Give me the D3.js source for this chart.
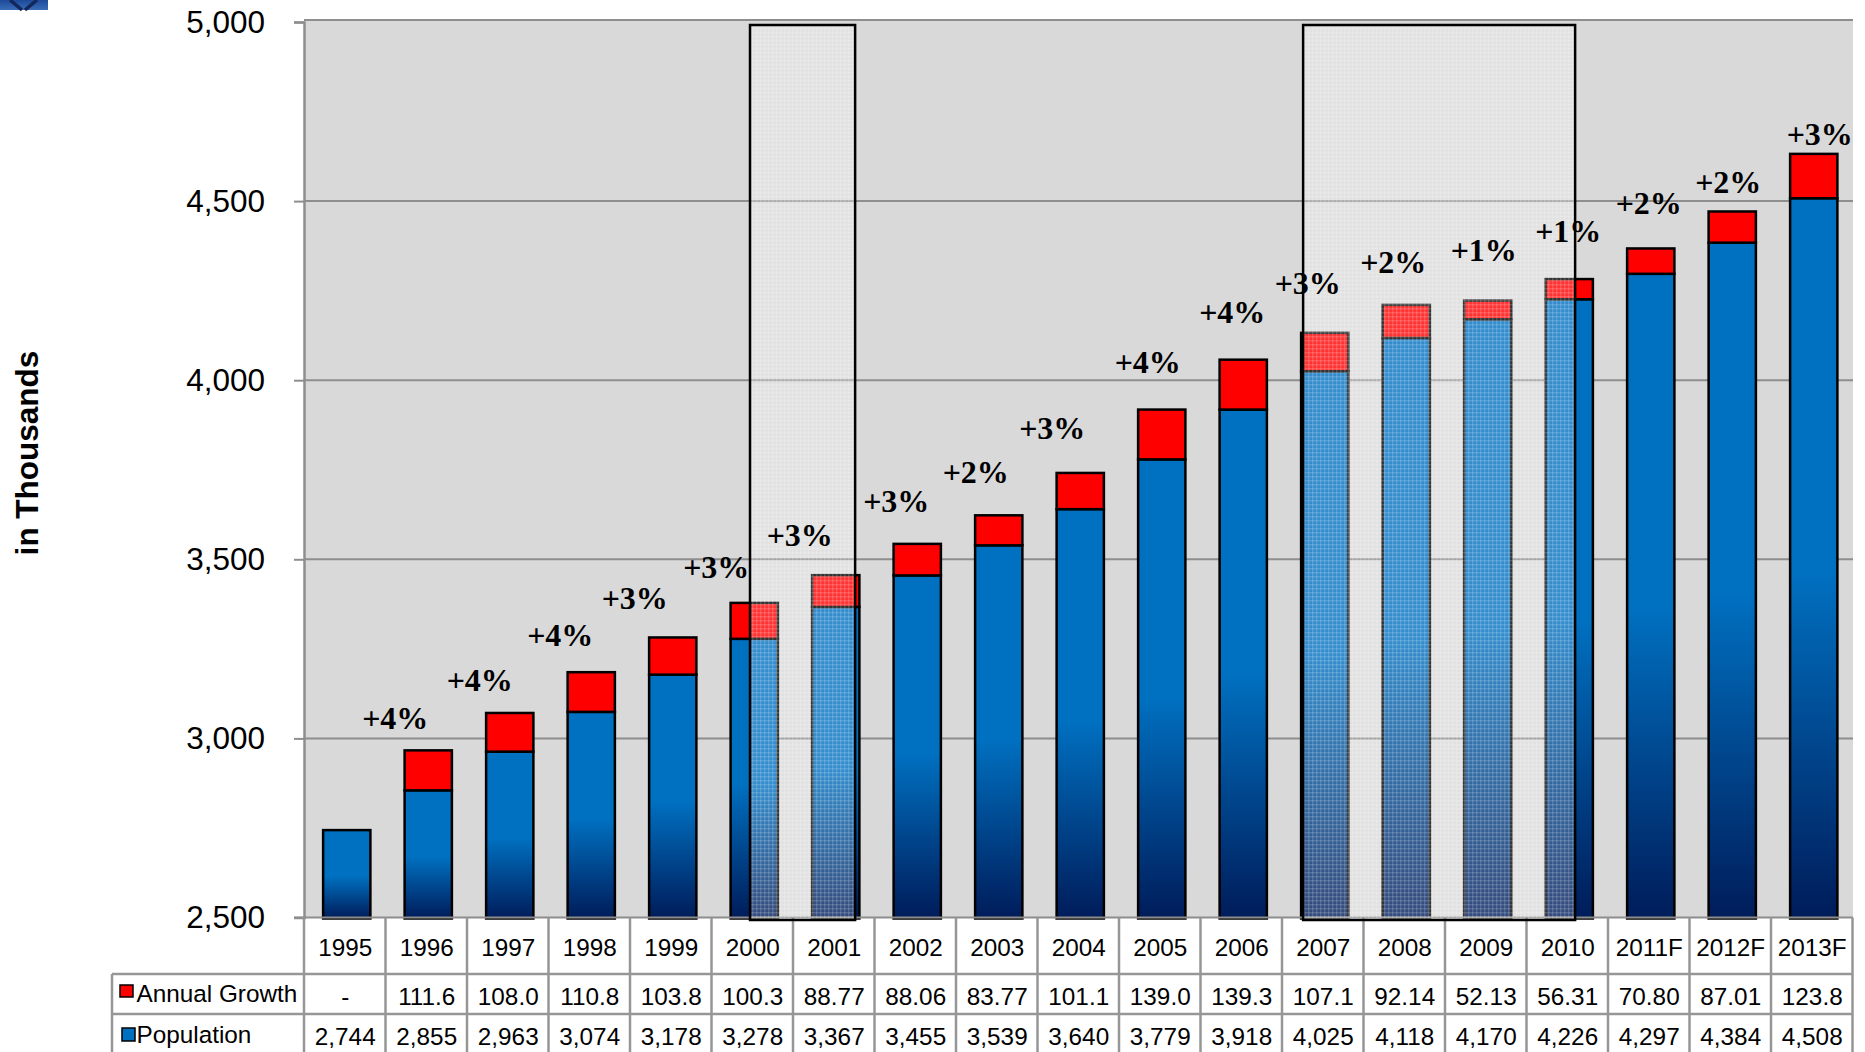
<!DOCTYPE html>
<html>
<head>
<meta charset="utf-8">
<script src="https://cdn.jsdelivr.net/npm/d3@7/dist/d3.min.js"></script>
<style>
html,body{margin:0;padding:0;background:#fff;overflow:hidden}
svg{display:block}
</style>
</head>
<body>
<svg id="chart" width="1865" height="1052"></svg>
<script>
const years = ["1995","1996","1997","1998","1999","2000","2001","2002","2003","2004","2005","2006","2007","2008","2009","2010","2011F","2012F","2013F"];
const population = [2744,2855,2963,3074,3178,3278,3367,3455,3539,3640,3779,3918,4025,4118,4170,4226,4297,4384,4508];
const growthText = ["-","111.6","108.0","110.8","103.8","100.3","88.77","88.06","83.77","101.1","139.0","139.3","107.1","92.14","52.13","56.31","70.80","87.01","123.8"];
const percentLabels = ["","+4%","+4%","+4%","+3%","+3%","+3%","+3%","+2%","+3%","+4%","+4%","+3%","+2%","+1%","+1%","+2%","+2%","+3%"];
const yTicks = [2500,3000,3500,4000,4500,5000];
const highlightSpans = [["2000","2001"],["2007","2010"]];
const seriesNames = ["Annual Growth","Population"];

// layout only: hand placement of the percent labels relative to each bar top
const labelDx = [0,-33,-30,-31,-38,-38,-36,-21,-23,-28,-14,-11,-17,-13,-4,-1,-2,-4,6];
const labelDy = [0,-32,-33,-37,-39,-36,-40,-43,-43,-45,-48,-48,-50,-43,-51,-48,-45,-29,-20];
// layout only: how far each highlight box sits from its first and last bar
const spanPadLeft = [19.4,2];
const spanPadRight = [43,29.5];

const growth = growthText.map(t => t === "-" ? 0 : parseFloat(t));
const rows = years.map((year,i) => ({year, Population: population[i], Growth: growth[i], i}));
const stacked = d3.stack().keys(["Population","Growth"])(rows);

const plot = {left:304, right:1853, top:20, bottom:917.5};
const sans = "'Liberation Sans', Arial, sans-serif";
const serif = "'Liberation Serif', 'Times New Roman', serif";
const gridGrey = "#8e8e8e", tableGrey = "#969696";

const svg = d3.select("#chart");
const y = d3.scaleLinear().domain([2500,5000]).range([917.5,22]);
const x = d3.scaleBand().domain(years).range([306,1854.5]).paddingInner(0.42).paddingOuter(0.21);
const col = d3.scaleBand().domain(years).range([304,1852.5]);

const defs = svg.append("defs");
const grad = defs.append("linearGradient").attr("id","blueGrad").attr("x1",0).attr("y1",0).attr("x2",0).attr("y2",1);
grad.append("stop").attr("offset","0.52").attr("stop-color","#0070c0");
grad.append("stop").attr("offset","1").attr("stop-color","#001c5a");
const logoGrad = defs.append("linearGradient").attr("id","logoGrad").attr("x1",0).attr("y1",0).attr("x2",0).attr("y2",1);
logoGrad.append("stop").attr("offset","0").attr("stop-color","#1d4a9a");
logoGrad.append("stop").attr("offset","1").attr("stop-color","#3a6db8");
const pat = defs.append("pattern").attr("id","screen").attr("patternUnits","userSpaceOnUse").attr("width",4).attr("height",4);
pat.append("rect").attr("width",4).attr("height",4).attr("fill","#fff").attr("fill-opacity",0.2);
pat.append("rect").attr("width",4).attr("height",1.4).attr("fill","#fff").attr("fill-opacity",0.16);
pat.append("rect").attr("width",1.4).attr("height",4).attr("fill","#fff").attr("fill-opacity",0.16);

// logo fragment, top left corner
svg.append("rect").attr("x",0).attr("y",0).attr("width",48).attr("height",10).attr("fill","url(#logoGrad)");
svg.append("path").attr("d","M10 0 L22 10 M37 0 L25 10").attr("fill","none").attr("stroke","#14275c").attr("stroke-width",3.5);

// plot background
svg.append("rect").attr("x",plot.left).attr("y",plot.top).attr("width",plot.right-plot.left).attr("height",plot.bottom-plot.top).attr("fill","#d9d9d9");

// grid
svg.append("g").selectAll("line").data(yTicks.slice(1)).join("line")
  .attr("x1",plot.left).attr("x2",plot.right)
  .attr("y1",d => d === 5000 ? plot.top : y(d)).attr("y2",d => d === 5000 ? plot.top : y(d))
  .attr("stroke",gridGrey).attr("stroke-width",2);

// y axis
const axisG = svg.append("g").attr("transform",`translate(${plot.left},0)`)
  .call(d3.axisLeft(y).tickValues(yTicks).tickFormat(d3.format(",")).tickSize(10).tickPadding(29));
axisG.select(".domain").attr("stroke",gridGrey).attr("stroke-width",2.5);
axisG.selectAll(".tick line").attr("stroke",gridGrey).attr("stroke-width",2);
axisG.selectAll(".tick text").attr("font-family",sans).attr("font-size",31.5).attr("fill","#000");

// y title
svg.append("text").attr("transform","translate(27,453) rotate(-90)")
  .attr("text-anchor","middle").attr("dominant-baseline","central")
  .attr("font-family",sans).attr("font-weight","bold").attr("font-size",31.5).attr("fill","#000")
  .text("in Thousands");

// bars
const barStroke = 2.5;
svg.append("g").selectAll("rect").data(stacked[0]).join("rect")
  .attr("x",d => x(d.data.year)).attr("width",x.bandwidth())
  .attr("y",d => y(d[1])).attr("height",d => y(2500) - y(d[1]) + 1)
  .attr("fill","url(#blueGrad)").attr("stroke","#000").attr("stroke-width",barStroke);
svg.append("g").selectAll("rect").data(stacked[1].filter(d => d.data.Growth > 0)).join("rect")
  .attr("x",d => x(d.data.year)).attr("width",x.bandwidth())
  .attr("y",d => y(d[1])).attr("height",d => y(d[0]) - y(d[1]))
  .attr("fill","#ff0000").attr("stroke","#000").attr("stroke-width",barStroke);

// axis baseline above the bars
svg.append("line").attr("x1",plot.left-10).attr("x2",plot.right).attr("y1",y(2500)).attr("y2",y(2500))
  .attr("stroke",gridGrey).attr("stroke-width",2);

// highlight spans
const boxes = highlightSpans.map((s,i) => ({x0:x(s[0]) + spanPadLeft[i], x1:x(s[1]) + spanPadRight[i]}));
const boxTop = 25, boxBottom = 920;
svg.append("g").selectAll("rect").data(boxes).join("rect")
  .attr("x",d => d.x0).attr("y",boxTop).attr("width",d => d.x1-d.x0).attr("height",boxBottom-boxTop)
  .attr("fill","url(#screen)");

// table
const tableRows = [974,1014];
const tg = svg.append("g");
tg.append("rect").attr("x",112).attr("y",tableRows[0]).attr("width",plot.left-112).attr("height",1052-tableRows[0]+4).attr("fill","#fff");
tg.selectAll("line.v").data(years.map((d,i) => i).concat([years.length])).join("line").attr("class","v")
  .attr("x1",i => i < years.length ? col(years[i]) : col.range()[1])
  .attr("x2",i => i < years.length ? col(years[i]) : col.range()[1])
  .attr("y1",plot.bottom).attr("y2",1052).attr("stroke",tableGrey).attr("stroke-width",2.5);
tg.selectAll("line.h").data(tableRows).join("line").attr("class","h")
  .attr("x1",112).attr("x2",col.range()[1]).attr("y1",d => d).attr("y2",d => d)
  .attr("stroke",tableGrey).attr("stroke-width",2.5);
tg.append("line").attr("x1",112).attr("x2",112).attr("y1",tableRows[0]).attr("y2",1052).attr("stroke",tableGrey).attr("stroke-width",2.5);

const tableText = (vals,yy) => tg.append("g").selectAll("text").data(vals).join("text")
  .attr("x",(d,i) => col(years[i]) + col.bandwidth()/2 + 0.5).attr("y",yy)
  .attr("text-anchor","middle").attr("dominant-baseline","central")
  .attr("font-family",sans).attr("font-size",24.3).attr("fill","#000").text(d => d);
tableText(years,947);
tableText(growthText,996);
tableText(population.map(d3.format(",")),1036);

// legend keys
tg.append("rect").attr("x",120).attr("y",985).attr("width",13).attr("height",12).attr("fill","#ff0000").attr("stroke","#000").attr("stroke-width",1.5);
tg.append("rect").attr("x",122).attr("y",1028).attr("width",13).attr("height",13).attr("fill","#0070c0").attr("stroke","#000").attr("stroke-width",1.5);
tg.selectAll("text.key").data(seriesNames).join("text").attr("class","key")
  .attr("x",136.5).attr("y",(d,i) => i === 0 ? 993 : 1034)
  .attr("dominant-baseline","central")
  .attr("font-family",sans).attr("font-size",24.3).attr("fill","#000").text(d => d);

// box outlines (over the table top)
svg.append("g").selectAll("rect").data(boxes).join("rect")
  .attr("x",d => d.x0).attr("y",boxTop).attr("width",d => d.x1-d.x0).attr("height",boxBottom-boxTop)
  .attr("fill","none").attr("stroke","#000").attr("stroke-width",2.5);

// percent labels
svg.append("g").selectAll("text").data(stacked[1].filter(d => d.data.Growth > 0)).join("text")
  .attr("x",d => x(d.data.year) + x.bandwidth()/2 + labelDx[d.data.i])
  .attr("y",d => y(d[1]) + labelDy[d.data.i])
  .attr("text-anchor","middle").attr("dominant-baseline","central")
  .attr("font-family",serif).attr("font-weight","bold").attr("font-size",32).attr("fill","#000")
  .text(d => percentLabels[d.data.i]);
</script>
</body>
</html>
